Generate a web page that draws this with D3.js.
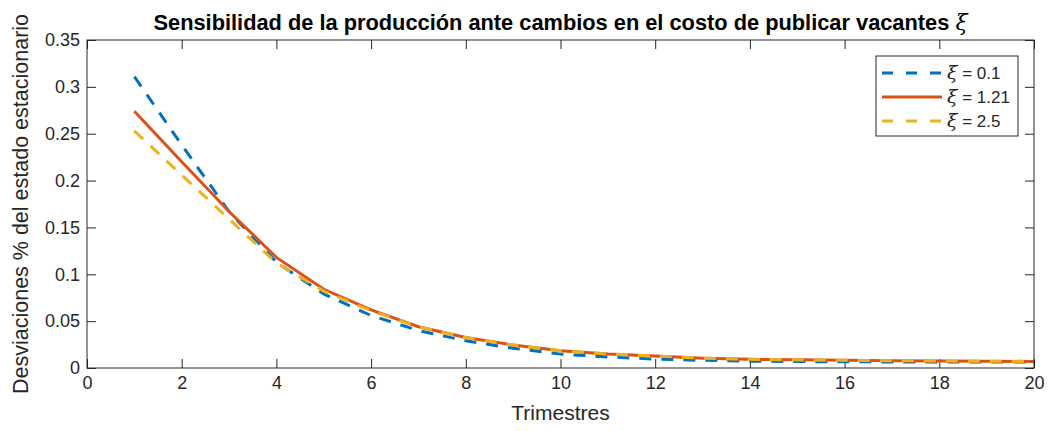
<!DOCTYPE html>
<html>
<head>
<meta charset="utf-8">
<script src="https://cdn.jsdelivr.net/npm/d3@7"></script>
<style>
  body { margin: 0; background: #fff; }
  text { font-family: "Liberation Sans", Arial, sans-serif; fill: #262626; }
</style>
</head>
<body>
<div class="graph"></div>
<script>
var trimestres = [1, 2, 3, 4, 5, 6, 7, 8, 9, 10, 11, 12, 13, 14, 15, 16, 17, 18, 19, 20];
var xi01 = [0.311, 0.238, 0.167, 0.113, 0.079, 0.056, 0.040, 0.029, 0.021, 0.0148, 0.0118, 0.0095, 0.0082, 0.0073, 0.0069, 0.0066, 0.0065, 0.0064, 0.0063, 0.0063];
var xi121 = [0.274, 0.220, 0.167, 0.118, 0.084, 0.062, 0.044, 0.0325, 0.0245, 0.0185, 0.015, 0.0128, 0.0105, 0.0093, 0.0087, 0.0082, 0.0078, 0.0075, 0.0072, 0.0070];
var xi25 = [0.253, 0.206, 0.159, 0.112, 0.082, 0.061, 0.044, 0.0325, 0.0245, 0.0185, 0.015, 0.0128, 0.0105, 0.0093, 0.0087, 0.0082, 0.0078, 0.0075, 0.0072, 0.0070];
var xTicks = [0, 2, 4, 6, 8, 10, 12, 14, 16, 18, 20];
var yTicks = [0, 0.05, 0.1, 0.15, 0.2, 0.25, 0.3, 0.35];

var series = [
  { name: '0.1', values: xi01, color: '#0072BD', dash: '12,10' },
  { name: '1.21', values: xi121, color: '#D95319', dash: null },
  { name: '2.5', values: xi25, color: '#EDB120', dash: '12,10' }
];

var W = 1050, H = 431;
var mL = 87, mR = 1034, mT = 40, mB = 368;

var x = d3.scaleLinear().domain([0, 20]).range([mL, mR]);
var y = d3.scaleLinear().domain([0, 0.35]).range([mB, mT]);

var svg = d3.select('.graph')
  .append('svg')
  .attr('width', W)
  .attr('height', H);

// axes (ticks inward)
var axisStyle = function (g) {
  g.select('.domain').remove();
  g.selectAll('line').attr('stroke', '#262626');
  g.selectAll('text').style('font-size', '18px').style('font-family', '"Liberation Sans", Arial, sans-serif').attr('fill', '#262626');
};
svg.append('g').attr('transform', 'translate(0,' + mB + ')')
  .call(d3.axisBottom(x).tickValues(xTicks).tickSize(-9).tickPadding(7).tickFormat(d3.format('d')))
  .call(axisStyle).selectAll('text').attr('dy', '0.75em');
svg.append('g').attr('transform', 'translate(0,' + mT + ')')
  .call(d3.axisTop(x).tickValues(xTicks).tickSize(-9).tickFormat(''))
  .call(axisStyle);
svg.append('g').attr('transform', 'translate(' + mL + ',0)')
  .call(d3.axisLeft(y).tickValues(yTicks).tickSize(-9).tickPadding(7).tickFormat(function (d) { return d === 0 ? '0' : String(+d.toFixed(2)); }))
  .call(axisStyle);
svg.append('g').attr('transform', 'translate(' + mR + ',0)')
  .call(d3.axisRight(y).tickValues(yTicks).tickSize(-9).tickFormat(''))
  .call(axisStyle);

// lines
var line = d3.line()
  .x(function (d, i) { return x(trimestres[i]); })
  .y(function (d) { return y(d); });

svg.selectAll('path.serie')
  .data(series)
  .enter()
  .append('path')
  .attr('class', 'serie')
  .attr('d', function (d) { return line(d.values); })
  .attr('fill', 'none')
  .attr('stroke', function (d) { return d.color; })
  .attr('stroke-width', 3)
  .attr('stroke-dasharray', function (d) { return d.dash; });

// box
svg.append('rect')
  .attr('x', mL).attr('y', mT)
  .attr('width', mR - mL).attr('height', mB - mT)
  .attr('fill', 'none').attr('stroke', '#262626').attr('stroke-width', 1);

// title
var title = svg.append('text')
  .attr('x', (mL + mR) / 2).attr('y', 30)
  .attr('text-anchor', 'middle')
  .style('font-size', '21.8px').style('font-weight', 'bold').attr('fill', '#000');
title.append('tspan').text('Sensibilidad de la producción ante cambios en el costo de publicar vacantes ')
  .style('fill', '#000');
title.append('tspan').text('ξ').style('font-family', '"DejaVu Serif", serif').style('font-style', 'italic').style('font-weight', 'normal').style('font-size', '22px').style('fill', '#000');

// axis labels
svg.append('text')
  .attr('x', (mL + mR) / 2).attr('y', 420)
  .attr('text-anchor', 'middle')
  .style('font-size', '21px')
  .text('Trimestres');
svg.append('text')
  .attr('transform', 'translate(28,' + (mT + mB) / 2 + ') rotate(-90)')
  .attr('text-anchor', 'middle')
  .style('font-size', '21.5px')
  .text('Desviaciones % del estado estacionario');

// legend
var legend = svg.append('g').attr('class', 'legend');
legend.append('rect')
  .attr('x', 876).attr('y', 56).attr('width', 142).attr('height', 80)
  .attr('fill', '#fff').attr('stroke', '#262626').attr('stroke-width', 1);
var items = legend.selectAll('g.item')
  .data(series)
  .enter()
  .append('g')
  .attr('class', 'item')
  .attr('transform', function (d, i) { return 'translate(0,' + (73 + 24 * i) + ')'; });
items.append('line')
  .attr('x1', 882).attr('x2', 942)
  .attr('stroke', function (d) { return d.color; })
  .attr('stroke-width', 3)
  .attr('stroke-dasharray', function (d) { return d.dash ? '11,13' : null; });
var lt = items.append('text')
  .attr('x', 947).attr('dy', '0.35em')
  .style('font-size', '17px');
lt.append('tspan').text('ξ').style('font-family', '"DejaVu Serif", serif').style('font-style', 'italic').style('font-size', '19px');
lt.append('tspan').text(function (d) { return ' = ' + d.name; });
</script>
</body>
</html>
